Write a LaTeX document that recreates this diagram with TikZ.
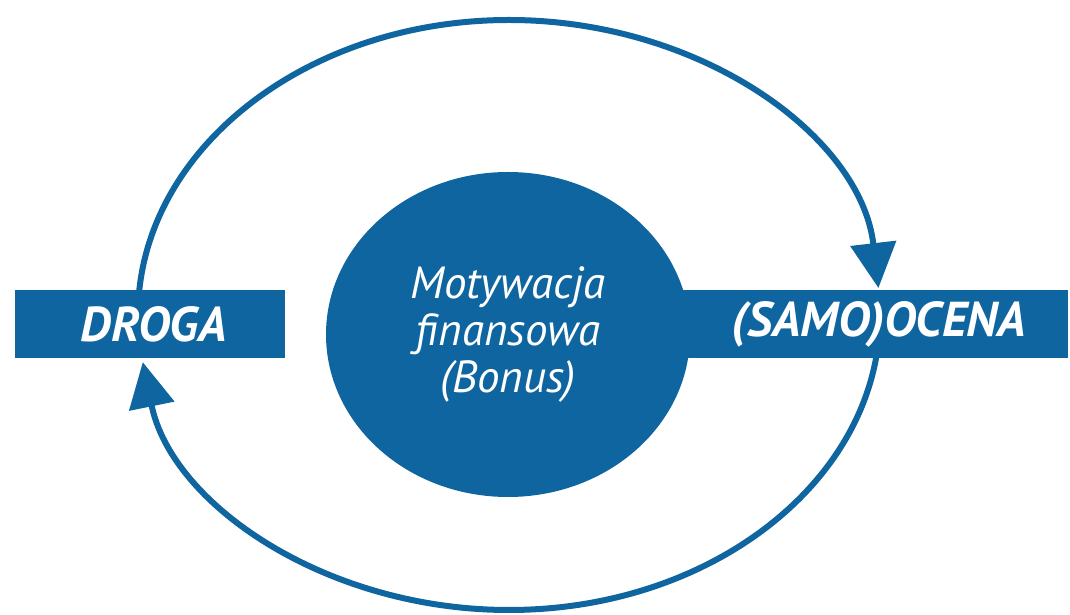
\documentclass[tikz,border=0pt]{standalone}
\usepackage{fontspec}
\setmainfont{PT Sans}
\usetikzlibrary{arrows.meta,shapes.geometric}
\definecolor{cblue}{HTML}{0F65A0}
\tikzset{
  box/.style={fill=cblue, draw=none, minimum height=68pt, inner sep=0pt,
    text=white, font=\fontsize{49}{52}\selectfont\bfseries\itshape},
  core/.style={fill=cblue, draw=none, ellipse, inner sep=0pt,
    minimum width=364pt, minimum height=325pt, text=white, align=center,
    font=\fontsize{45}{47}\selectfont\itshape},
  loopline/.style={draw=cblue, line width=6pt,
    -{Triangle[length=45pt,width=45pt]}}
}
\begin{document}
\begin{tikzpicture}[x=1pt,y=1pt]
\useasboundingbox (0,0) rectangle (1070,615);
\coordinate (c) at (509,300);
\draw[loopline] ([shift={(180:371pt and 295pt)}]c) arc[start angle=180, end angle=5.25, x radius=371, y radius=295];
\draw[loopline] ([shift={(0:371pt and 295pt)}]c) arc[start angle=0, end angle=-170.8, x radius=371, y radius=295];
\node[box, minimum width=270pt] (droga) at (150,291) {\hspace*{8pt}DROGA};
\node[box, minimum width=398pt] (ocena) at (869,291) {\hspace*{20pt}(SAMO)OCENA};
\node[core] (motyw) at (508,280.5) {Motywacja\\finansowa\\(Bonus)};
\end{tikzpicture}
\end{document}
